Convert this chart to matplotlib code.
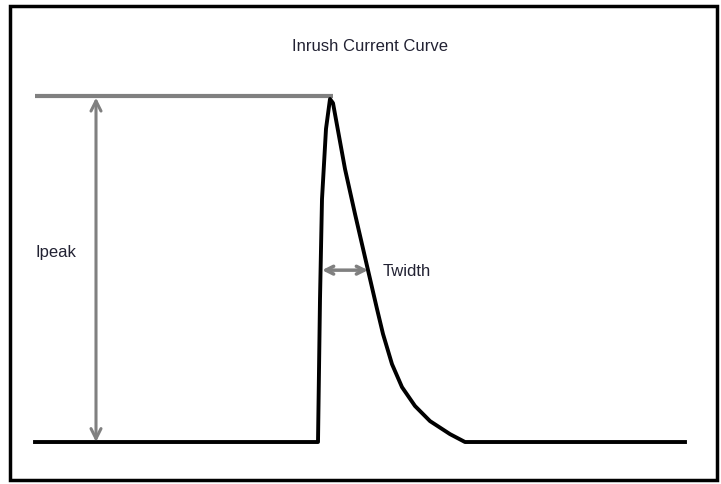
import matplotlib.pyplot as plt
from matplotlib.patches import Rectangle

# current pulse, arbitrary time units vs current in % of peak
time = [0, 28.3, 28.5, 28.7, 29.1, 29.5, 29.8, 31.0, 32.0, 33.3, 34.2, 34.8,
        35.7, 36.7, 38.0, 39.5, 41.5, 43.0, 65.0]
current = [0, 0, 41.7, 70.8, 91.3, 100, 98.8, 79.6, 66.5, 50.1, 38.8, 31.5,
           22.7, 16.0, 10.5, 6.1, 2.3, 0, 0]

ipeak_level = 100.9
ipeak_span = (0, 29.8)
ipeak_arrow_t = 6.1
twidth_span = (28.7, 33.3)
twidth_level = 50.1

title = "Inrush Current Curve"
gray = "#808080"
font = ["Liberation Sans Narrow", "Liberation Sans", "DejaVu Sans"]

fig = plt.figure(figsize=(7.21, 4.85), dpi=100)
ax = fig.add_axes([0, 0, 1, 1])
ax.set_xlim(-3.5, 68.6)
ax.set_ylim(-12.24, 129.15)
ax.axis("off")

# frame around the picture
fig.patches.append(Rectangle((10 / 721, 4 / 485), 707 / 721, 474 / 485,
                             transform=fig.transFigure, fill=False,
                             edgecolor="black", lw=2.5))

ax.plot(ipeak_span, [ipeak_level] * 2, color=gray, lw=3, solid_capstyle="butt")
ax.plot(time, current, color="black", lw=2.8, solid_joinstyle="round")

ax.annotate("", xy=(ipeak_arrow_t, 0), xytext=(ipeak_arrow_t, ipeak_level - 0.5),
            arrowprops=dict(arrowstyle="<->", color=gray, lw=2.2,
                            mutation_scale=18, shrinkA=0, shrinkB=0))
ax.annotate("", xy=(twidth_span[0], twidth_level), xytext=(twidth_span[1], twidth_level),
            arrowprops=dict(arrowstyle="<->", color=gray, lw=2.5,
                            mutation_scale=14, shrinkA=0, shrinkB=0))

ax.text(34.8, 50.1, "Twidth", family=font, fontsize=12, va="center", ha="left",
        color="#222233")
ax.text(0, 55.6, "Ipeak", family=font, fontsize=12, va="center", ha="left",
        color="#222233")
ax.text(33.5, 115.5, title, family=font, fontsize=12, va="center", ha="center",
        color="#222233")

fig.savefig("out.png", dpi=100)
